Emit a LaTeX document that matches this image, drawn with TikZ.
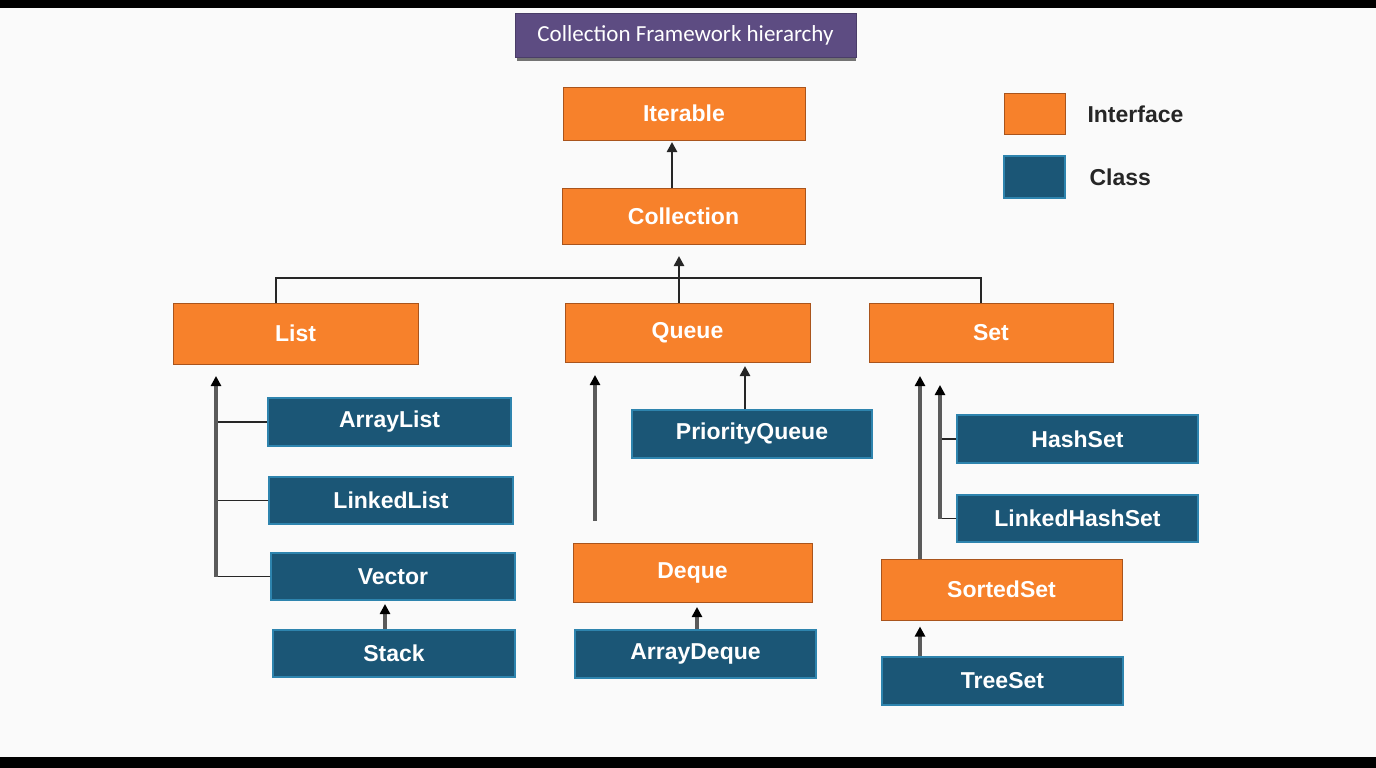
\documentclass[tikz,border=0pt]{standalone}
\usepackage{fontspec}
\setmainfont{Liberation Sans}
\newfontfamily\titlefont{Carlito}
\usepackage{tikz}
\usetikzlibrary{arrows.meta, positioning}
\definecolor{ifaceorange}{HTML}{F7812B}
\definecolor{ifaceedge}{HTML}{A9541C}
\definecolor{classblue}{HTML}{1B5676}
\definecolor{classedge}{HTML}{2E84AE}
\definecolor{titlepurple}{HTML}{5D4C82}
\definecolor{busgray}{HTML}{5A5A5A}
\tikzset{
  >={Triangle[length=10pt,width=10pt]},
  ifacebox/.style={
    rectangle,draw=ifaceedge,fill=ifaceorange,line width=1pt,
    text=white,font=\fontsize{23}{27}\selectfont\bfseries,
    inner sep=0pt
  },
  classbox/.style={
    rectangle,draw=classedge,fill=classblue,line width=1.5pt,
    text=white,font=\fontsize{23}{27}\selectfont\bfseries,
    inner sep=0pt
  },
  legendtext/.style={font=\fontsize{23}{27}\selectfont\bfseries,text=black!85,anchor=west},
  treeline/.style={draw=black!85,line width=2pt},
  branch/.style={draw=black!85,line width=1.5pt},
  uparrow/.style={draw=black!85,line width=2.5pt,->},
  busarrow/.style={draw=busgray,line width=3.5pt,-{Triangle[length=10pt,width=10pt,color=black]}}
}

\begin{document}
\begin{tikzpicture}[x=1pt,y=-1pt]
  \useasboundingbox (0,0) rectangle (1376,768);
  % background and bars
  \fill[white!98!black] (0,0) rectangle (1376,768);
  \fill[black] (0,0) rectangle (1376,8);
  \fill[black] (0,757) rectangle (1376,768);

  % title
  \fill[black!55] (517,54) rectangle (856,61);
  \node[rectangle,fill=titlepurple,draw=titlepurple!80!black,
    minimum width=341pt,minimum height=44pt,inner sep=0pt,
    text=white,font=\titlefont\fontsize{23}{27}\selectfont]
    at (685.5,35) (title){Collection Framework hierarchy};

  % legend
  \node[ifacebox,minimum width=61pt,minimum height=41pt] at (1034.5,113.5) (legiface){};
  \node[classbox,minimum width=61pt,minimum height=42pt] at (1034.5,177) (legclass){};
  \node[legendtext] at (1084,114) (legifacetext){Interface};
  \node[legendtext] at (1086,177) (legclasstext){Class};

  % top
  \node[ifacebox,minimum width=242pt,minimum height=53pt] at (684,113.5) (iterable){Iterable};
  \node[ifacebox,minimum width=243pt,minimum height=56pt] at (683.5,216) (collection){Collection};

  % second row
  \node[ifacebox,minimum width=245pt,minimum height=61pt] at (295.5,333.5) (list){List};
  \node[ifacebox,minimum width=245pt,minimum height=59pt] at (687.5,332.5) (queue){Queue};
  \node[ifacebox,minimum width=244pt,minimum height=59pt] at (991,332.5) (set){Set};

  % list column
  \node[classbox,minimum width=243pt,minimum height=48pt] at (389.5,422) (arraylist){ArrayList};
  \node[classbox,minimum width=244pt,minimum height=47pt] at (391,500.5) (linkedlist){LinkedList};
  \node[classbox,minimum width=244pt,minimum height=47pt] at (393,576.5) (vector){Vector};
  \node[classbox,minimum width=242pt,minimum height=47pt] at (394,653.5) (stack){Stack};

  % queue column
  \node[classbox,minimum width=240pt,minimum height=48pt] at (752,434) (priorityqueue){PriorityQueue};
  \node[ifacebox,minimum width=239pt,minimum height=59pt] at (692.5,572.5) (deque){Deque};
  \node[classbox,minimum width=241pt,minimum height=48pt] at (695.5,654) (arraydeque){ArrayDeque};

  % set column
  \node[classbox,minimum width=241pt,minimum height=48pt] at (1077.5,439) (hashset){HashSet};
  \node[classbox,minimum width=241pt,minimum height=47pt] at (1077.5,518.5) (linkedhashset){LinkedHashSet};
  \node[ifacebox,minimum width=241pt,minimum height=61pt] at (1001.5,589.5) (sortedset){SortedSet};
  \node[classbox,minimum width=241pt,minimum height=48pt] at (1002.5,681) (treeset){TreeSet};

  % bus coordinates
  \coordinate (topbus) at (672,142);
  \coordinate (collbus) at (679,256);
  \coordinate (listbus) at (216,376);
  \coordinate (stackbus) at (385,604);
  \coordinate (queuebus) at (595,375);
  \coordinate (pqbus) at (745,366);
  \coordinate (dequebus) at (697,607);
  \coordinate (setbus) at (920,376);
  \coordinate (hashbus) at (940,385);

  % collection -> iterable
  \draw[uparrow] (topbus |- collection.north) -- (topbus);

  % tree to list, queue, set
  \draw[treeline] ([xshift=-19.5pt]list.north) -- ++(0,-25) -| ([xshift=-10pt]set.north);
  \draw[uparrow] (collbus |- queue.north) -- (collbus);

  % list branches
  \draw[branch] (arraylist.west) -- (arraylist.west -| listbus);
  \draw[branch] (linkedlist.west) -- (linkedlist.west -| listbus);
  \draw[branch] (vector.west) -- (vector.west -| listbus);
  \draw[busarrow] (vector.west -| listbus) -- (listbus);
  \draw[busarrow] (stackbus |- stack.north) -- (stackbus);

  % queue branches
  \draw[busarrow,shorten <=22pt] (queuebus |- deque.north) -- (queuebus);
  \draw[uparrow] (pqbus |- priorityqueue.north) -- (pqbus);
  \draw[busarrow] (dequebus |- arraydeque.north) -- (dequebus);

  % set branches
  \draw[busarrow] (setbus |- sortedset.north) -- (setbus);
  \draw[branch] (hashset.west) -- (hashset.west -| hashbus);
  \draw[branch] (linkedhashset.west) -- (linkedhashset.west -| hashbus);
  \draw[busarrow] (linkedhashset.west -| hashbus) -- (hashbus);
  \draw[busarrow,shorten >=6pt] (setbus |- treeset.north) -- (setbus |- sortedset.south);
\end{tikzpicture}
\end{document}
